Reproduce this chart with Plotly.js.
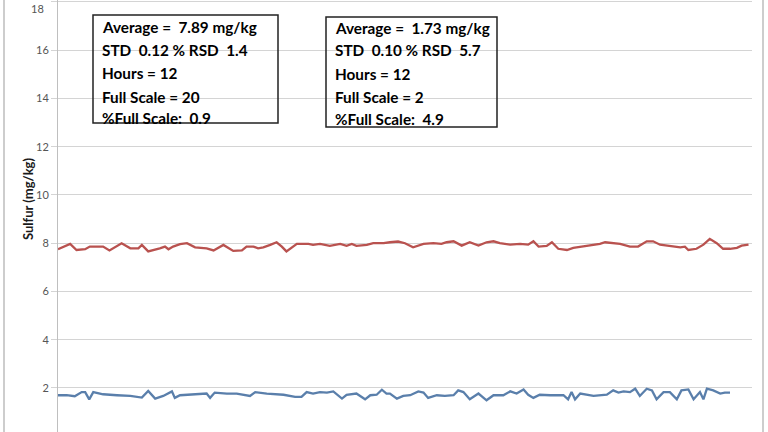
<!DOCTYPE html>
<html>
<head>
<meta charset="utf-8">
<script src="https://cdn.plot.ly/plotly-3.0.1.min.js"></script>
<style>html,body{margin:0;padding:0;background:#fff;}#chart{width:768px;height:432px;}</style>
</head>
<body>
<div id="chart"></div>
<script>
// Time in hours
const redHours = [0.00,0.21,0.32,0.47,0.55,0.78,0.89,1.10,1.25,1.39,1.45,1.56,1.76,1.85,1.91,1.99,2.11,2.23,2.37,2.57,2.69,2.86,3.03,3.18,3.26,3.38,3.46,3.55,3.67,3.78,3.87,3.95,4.13,4.33,4.41,4.53,4.70,4.88,4.99,5.08,5.16,5.34,5.45,5.63,5.74,5.88,6.00,6.14,6.32,6.49,6.63,6.72,6.84,6.98,7.12,7.27,7.41,7.53,7.64,7.82,7.99,8.13,8.22,8.31,8.45,8.54,8.65,8.80,8.91,9.08,9.23,9.37,9.46,9.60,9.72,9.89,10.03,10.18,10.29,10.41,10.58,10.76,10.84,10.90,11.04,11.16,11.27,11.39,11.50,11.62,11.74,11.82,11.94];
const redSulfur = [7.75,7.97,7.72,7.75,7.86,7.86,7.70,8.00,7.79,7.79,7.93,7.66,7.79,7.86,7.75,7.86,7.96,8.00,7.83,7.79,7.70,7.93,7.68,7.70,7.86,7.86,7.79,7.83,7.93,8.04,7.86,7.66,7.97,7.97,7.93,7.97,7.89,7.97,7.89,7.97,7.89,7.93,8.00,8.00,8.04,8.07,8.00,7.83,7.97,8.00,7.97,8.04,8.08,7.90,8.04,7.90,8.04,8.08,8.00,7.94,7.97,7.94,8.08,7.86,7.89,8.04,7.77,7.72,7.81,7.86,7.90,7.97,8.04,8.00,7.97,7.86,7.86,8.08,8.08,7.94,7.90,7.83,7.86,7.72,7.77,7.94,8.18,8.00,7.77,7.77,7.81,7.90,7.94];
const blueHours = [0.00,0.15,0.29,0.41,0.47,0.54,0.61,0.78,1.02,1.25,1.45,1.56,1.68,1.82,1.97,2.02,2.11,2.34,2.57,2.63,2.71,2.92,3.09,3.32,3.41,3.61,3.90,4.10,4.21,4.30,4.41,4.53,4.65,4.76,4.91,4.99,5.16,5.31,5.40,5.51,5.60,5.68,5.74,5.86,5.97,6.09,6.23,6.32,6.40,6.55,6.69,6.84,6.92,7.01,7.12,7.27,7.41,7.53,7.70,7.82,7.93,8.05,8.13,8.22,8.33,8.51,8.74,8.82,8.88,8.94,9.03,9.26,9.49,9.60,9.69,9.78,9.89,9.98,10.06,10.18,10.27,10.35,10.47,10.58,10.70,10.78,10.90,10.99,11.10,11.16,11.22,11.33,11.45,11.53,11.62];
const blueSulfur = [1.70,1.70,1.66,1.83,1.83,1.53,1.83,1.74,1.70,1.67,1.60,1.88,1.56,1.67,1.86,1.59,1.70,1.74,1.77,1.59,1.81,1.77,1.77,1.67,1.83,1.77,1.72,1.63,1.63,1.83,1.77,1.83,1.81,1.86,1.56,1.72,1.77,1.53,1.70,1.72,1.93,1.77,1.77,1.56,1.67,1.70,1.86,1.81,1.59,1.70,1.67,1.70,1.90,1.83,1.53,1.77,1.49,1.70,1.70,1.86,1.77,1.94,1.72,1.59,1.72,1.70,1.70,1.53,1.83,1.53,1.77,1.67,1.72,1.90,1.81,1.86,1.83,1.97,1.67,1.97,1.90,1.53,1.83,1.83,1.53,1.90,1.94,1.53,1.83,1.53,1.97,1.90,1.77,1.81,1.81];
const yTicks = [0,2,4,6,8,10,12,14,16,18];
const yTitle = "Sulfur (mg/kg)";
const box1Lines = ["Average =\u00a0 7.89 mg/kg","STD\u00a0 0.12 % RSD\u00a0 1.4","Hours = 12","Full Scale = 20","%Full Scale:\u00a0 0.9"];
const box2Lines = ["Average =\u00a0 1.73 mg/kg","STD\u00a0 0.10 % RSD\u00a0 5.7","Hours = 12","Full Scale = 2","%Full Scale:\u00a0 4.9"];

// layout geometry (pixels)
const W = 768, H = 432, L = 58, R = 752;
const px = x => (x - L) / (R - L);
const py = y => 1 - y / H;
const tickFont = {family: 'Lato, sans-serif', size: 11, color: '#555'};

const traces = [
  {x: redHours, y: redSulfur, type: 'scatter', mode: 'lines', line: {color: '#b9524f', width: 2.3}, hoverinfo: 'none'},
  {x: blueHours, y: blueSulfur, type: 'scatter', mode: 'lines', line: {color: '#5a7fab', width: 2.3}, hoverinfo: 'none'}
];

const annotations = [];
const lineY1 = [27, 50, 73, 97, 118];
const lineY2 = [28, 50, 74, 97, 119];
const boxFont = {family: 'Lato, sans-serif', size: 15.3, color: '#000'};
box1Lines.forEach((t, i) => annotations.push({text: '<b>' + t + '</b>', xref: 'paper', yref: 'paper', x: px(100), y: py(lineY1[i]), xanchor: 'left', yanchor: 'middle', showarrow: false, font: boxFont}));
box2Lines.forEach((t, i) => annotations.push({text: '<b>' + t + '</b>', xref: 'paper', yref: 'paper', x: px(333), y: py(lineY2[i]), xanchor: 'left', yanchor: 'middle', showarrow: false, font: boxFont}));
annotations.push({text: '<b>' + yTitle + '</b>', xref: 'paper', yref: 'paper', x: px(28), y: py(199), textangle: -90, showarrow: false, xanchor: 'center', yanchor: 'middle', font: {family: 'Lato, sans-serif', size: 13, color: '#1a1a1a'}});
// top tick label (sits at the picture's top edge in the reference)
annotations.push({text: String(yTicks[yTicks.length - 1]), xref: 'paper', yref: 'paper', x: px(46), y: 1, xanchor: 'right', yanchor: 'top', showarrow: false, font: tickFont});

const shapes = [
  {type: 'rect', xref: 'paper', yref: 'paper', x0: px(93), x1: px(278), y0: py(123), y1: py(15), line: {color: '#222', width: 1.5}, fillcolor: 'rgba(255,255,255,0)'},
  {type: 'rect', xref: 'paper', yref: 'paper', x0: px(326), x1: px(497), y0: py(127), y1: py(17), line: {color: '#222', width: 1.5}, fillcolor: 'rgba(255,255,255,0)'},
  {type: 'line', xref: 'paper', yref: 'paper', x0: px(4), x1: px(4), y0: 0, y1: 1, line: {color: '#bdbdbd', width: 1.5}},
  {type: 'line', xref: 'paper', yref: 'paper', x0: px(763), x1: px(763), y0: 0, y1: 1, line: {color: '#bdbdbd', width: 1.5}}
];

const layout = {
  width: W, height: H,
  margin: {l: L, r: W - R, t: 0, b: 0},
  paper_bgcolor: '#fff', plot_bgcolor: '#fff',
  showlegend: false,
  xaxis: {range: [0, 12], showgrid: false, zeroline: false, showticklabels: false, showline: false, ticks: ''},
  yaxis: {range: [0.176, 18.08], tickvals: yTicks, ticktext: yTicks.map(String), showgrid: true, gridcolor: '#d4d4d4', gridwidth: 1,
          zeroline: false, showline: true, linecolor: '#bfbfbf', linewidth: 1, ticks: 'outside', ticklen: 6, tickcolor: '#d4d4d4',
          tickfont: tickFont},
  annotations: annotations,
  shapes: shapes
};

Plotly.newPlot('chart', traces, layout, {staticPlot: true, displayModeBar: false});
</script>
</body>
</html>
